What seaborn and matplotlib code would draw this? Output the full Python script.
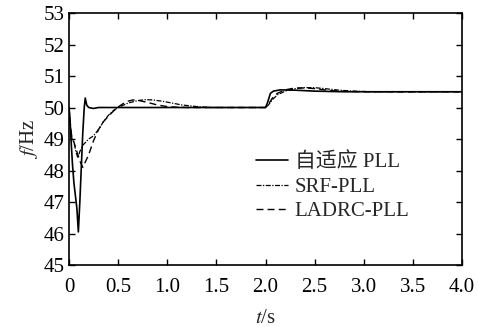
import matplotlib
matplotlib.use("Agg")
import matplotlib.pyplot as plt
import seaborn as sns
import pandas as pd

# Frequency estimates (Hz) over time (s) for three phase-locked loops
t_adaptive = [0, 0.008, 0.02, 0.035, 0.05, 0.065, 0.08, 0.095, 0.11, 0.125, 0.14,
              0.155, 0.165, 0.18, 0.2, 0.25, 0.3, 0.4, 2.0, 2.02, 2.05, 2.08,
              2.15, 2.3, 2.5, 2.8, 4.0]
f_adaptive = [50.0, 49.7, 49.0, 48.2, 47.6, 47.2, 46.8, 46.05, 47.0, 48.1, 49.2,
              50.0, 50.3, 50.08, 50.0, 49.97, 50.0, 50.0, 50.0, 50.15, 50.45, 50.52,
              50.56, 50.55, 50.52, 50.5, 50.5]

t_srf = [0, 0.01, 0.03, 0.05, 0.07, 0.09, 0.11, 0.14, 0.17, 0.2, 0.25, 0.3, 0.35,
         0.4, 0.45, 0.5, 0.6, 0.7, 0.78, 0.85, 0.95, 1.05, 1.15, 1.3, 1.45, 2.0,
         2.03, 2.07, 2.12, 2.2, 2.3, 2.4, 2.5, 2.6, 2.75, 2.9, 3.1, 4.0]
f_srf = [50.0, 49.5, 49.0, 48.9, 48.6, 48.4, 48.6, 48.8, 48.9, 49.0, 49.1, 49.3,
         49.55, 49.75, 49.9, 50.0, 50.14, 50.22, 50.25, 50.24, 50.2, 50.14, 50.08,
         50.03, 50.0, 50.0, 50.08, 50.25, 50.4, 50.52, 50.6, 50.63, 50.63, 50.6,
         50.55, 50.52, 50.5, 50.5]

t_ladrc = [0, 0.01, 0.03, 0.05, 0.08, 0.11, 0.14, 0.17, 0.2, 0.25, 0.3, 0.35, 0.4,
           0.45, 0.5, 0.55, 0.6, 0.65, 0.7, 0.8, 0.9, 1.0, 1.1, 1.2, 2.0, 2.03,
           2.07, 2.12, 2.2, 2.3, 2.4, 2.5, 2.6, 2.7, 2.85, 3.0, 4.0]
f_ladrc = [50.0, 49.6, 49.0, 48.9, 48.6, 48.3, 48.1, 48.3, 48.5, 48.95, 49.3, 49.55,
           49.72, 49.88, 50.02, 50.12, 50.2, 50.24, 50.23, 50.16, 50.08, 50.03,
           50.01, 50.0, 50.0, 50.1, 50.3, 50.45, 50.56, 50.62, 50.62, 50.6, 50.56,
           50.53, 50.51, 50.5, 50.5]

series_names = ["自适应 PLL", "SRF-PLL", "LADRC-PLL"]
x_ticks = [0, 0.5, 1.0, 1.5, 2.0, 2.5, 3.0, 3.5, 4.0]
x_tick_labels = ["0", "0.5", "1.0", "1.5", "2.0", "2.5", "3.0", "3.5", "4.0"]
y_ticks = [45, 46, 47, 48, 49, 50, 51, 52, 53]

sns.set_style("ticks")
plt.rcParams["font.family"] = ["Liberation Serif", "Noto Sans CJK SC"]
plt.rcParams["mathtext.fontset"] = "stix"
plt.rcParams["font.size"] = 15

fig = plt.figure(figsize=(4.78, 3.27), dpi=100)
ax = fig.add_axes([0.1444, 0.1896, 0.8221, 0.7706])

styles = ["-", (0, (4, 1.2, 1, 1.2)), (0, (5, 3))]
widths = [1.2, 0.9, 1.0]
for name, t, f, ls, lw in zip(series_names,
                              [t_adaptive, t_srf, t_ladrc],
                              [f_adaptive, f_srf, f_ladrc],
                              styles, widths):
    df = pd.DataFrame({"t": t, "f": f})
    sns.lineplot(data=df, x="t", y="f", ax=ax, color="black", linewidth=lw,
                 linestyle=ls, label=name, estimator=None, sort=False)

ax.set_xlim(0, 4.0)
ax.set_ylim(45, 53)
ax.set_xticks(x_ticks)
ax.set_xticklabels(x_tick_labels)
ax.set_yticks(y_ticks)
ax.tick_params(direction="in", length=4, width=1, top=True, right=True,
               labelsize=15, colors="black")
ax.tick_params(axis="x", pad=9)
ax.tick_params(axis="y", pad=3)
for sp in ax.spines.values():
    sp.set_visible(True)
    sp.set_linewidth(1.2)
    sp.set_color("black")

ax.set_xlabel("$t$/s", fontsize=15, labelpad=9)
ax.set_ylabel("$f$/Hz", fontsize=15)
ax.yaxis.set_label_coords(-0.073, 0.5)

leg = ax.legend(loc="upper left", bbox_to_anchor=(0.455, 0.48), frameon=False,
                fontsize=15, handlelength=1.55, handletextpad=0.3,
                labelspacing=0.24, borderaxespad=0)

fig.savefig("out.png", dpi=100, facecolor="white")
